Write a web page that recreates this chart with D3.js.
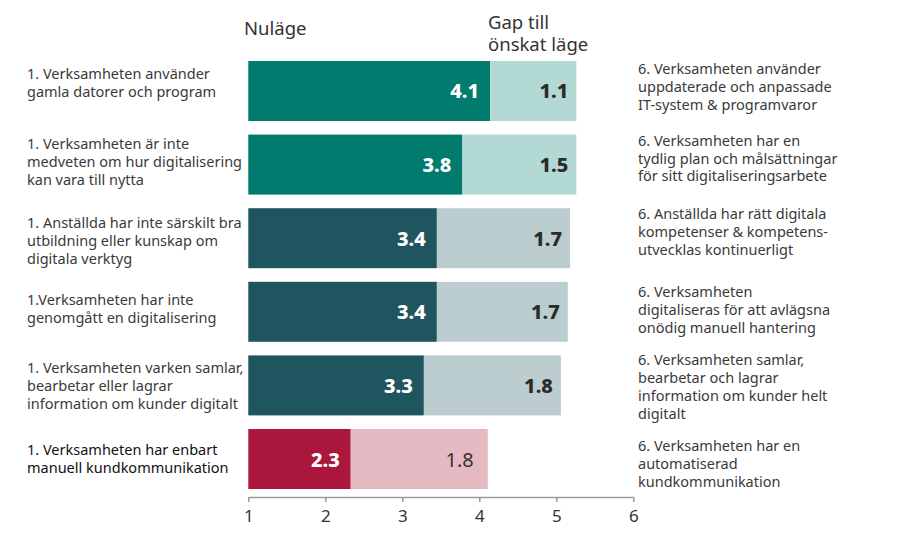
<!DOCTYPE html>
<html><head><meta charset="utf-8">
<script src="https://cdn.jsdelivr.net/npm/d3@7"></script>
<style>body{margin:0;background:#fff}svg{display:block}</style>
</head><body>
<svg id="c" width="897" height="548"></svg>
<script>
const leftLabels = [
  ["1. Verksamheten använder","gamla datorer och program"],
  ["1. Verksamheten är inte","medveten om hur digitalisering","kan vara till nytta"],
  ["1. Anställda har inte särskilt bra","utbildning eller kunskap om","digitala verktyg"],
  ["1.Verksamheten har inte","genomgått en digitalisering"],
  ["1. Verksamheten varken samlar,","bearbetar eller lagrar","information om kunder digitalt"],
  ["1. Verksamheten har enbart","manuell kundkommunikation"]
];
const rightLabels = [
  ["6. Verksamheten använder","uppdaterade och anpassade","IT-system & programvaror"],
  ["6. Verksamheten har en","tydlig plan och målsättningar","för sitt digitaliseringsarbete"],
  ["6. Anställda har rätt digitala","kompetenser & kompetens-","utvecklas kontinuerligt"],
  ["6. Verksamheten","digitaliseras för att avlägsna","onödig manuell hantering"],
  ["6. Verksamheten samlar,","bearbetar och lagrar","information om kunder helt","digitalt"],
  ["6. Verksamheten har en","automatiserad","kundkommunikation"]
];
const nulage = [4.14, 3.78, 3.449, 3.449, 3.28, 2.33];
const gap    = [1.12, 1.48, 1.73, 1.70, 1.78, 1.78];
const groups = ["teal","teal","slate","slate","slate","red"];
const xTicks = [1,2,3,4,5,6];
const headers = {nulage:["Nuläge"], gap:["Gap till","önskat läge"]};

// layout: vertical nudges of the side labels relative to bar centre (px)
const leftShift = [-9,-4,2,-4,0,-1.5];
const rightShift = [-5,-7,-7,-3,0.5,4];

const palette = {
  teal:{dark:"#007b6d", light:"#b3d9d4", gapText:"#2b2b2b", gapBold:true},
  slate:{dark:"#1f555e", light:"#bccdcf", gapText:"#2b2b2b", gapBold:true},
  red:{dark:"#aa163c", light:"#e4b9c2", gapText:"#333", gapBold:false}
};

const svg = d3.select("#c");
const font = "'Noto Sans', sans-serif";
const x = d3.scaleLinear().domain([1,6]).range([248.3,633.3]);
const y = d3.scaleBand().domain(d3.range(6)).range([61,489]).paddingInner(0.185).paddingOuter(0);

const rows = svg.append("g").selectAll("g").data(d3.range(6)).join("g");

rows.append("rect")
  .attr("x", x(1)).attr("y", i=>y(i))
  .attr("width", i=>x(nulage[i])-x(1)).attr("height", y.bandwidth())
  .attr("fill", i=>palette[groups[i]].dark);
rows.append("rect")
  .attr("x", i=>x(nulage[i])).attr("y", i=>y(i))
  .attr("width", i=>x(nulage[i]+gap[i])-x(nulage[i])).attr("height", y.bandwidth())
  .attr("fill", i=>palette[groups[i]].light);

const fmt = d3.format(".1f");
rows.append("text")
  .attr("x", i=>x(nulage[i])-11).attr("y", i=>y(i)+y.bandwidth()/2)
  .attr("text-anchor","end").attr("dominant-baseline","central")
  .attr("font-family", font).attr("font-size", 20).attr("font-weight", 800)
  .attr("fill","#fff").text(i=>fmt(nulage[i]));
rows.append("text")
  .attr("x", i=>x(nulage[i]+gap[i])-(palette[groups[i]].gapBold?8:14)).attr("y", i=>y(i)+y.bandwidth()/2)
  .attr("text-anchor","end").attr("dominant-baseline","central")
  .attr("font-family", font).attr("font-size", 20)
  .attr("font-weight", i=>palette[groups[i]].gapBold?800:400)
  .attr("fill", i=>palette[groups[i]].gapText).text(i=>fmt(gap[i]));

function multiline(sel, xPos, lines, lh, cy, color) {
  const t = sel.append("text").attr("font-family", font).attr("font-size", 14.5).attr("fill", color);
  const n = lines.length;
  lines.forEach((l,k)=>{
    t.append("tspan").attr("x", xPos).attr("y", cy + (k-(n-1)/2)*lh).attr("dominant-baseline","central").text(l);
  });
}
rows.each(function(i){
  const g = d3.select(this);
  const cy = y(i)+y.bandwidth()/2;
  multiline(g, 27, leftLabels[i], 18, cy+leftShift[i], i===5?"#111":"#3a3a3a");
  multiline(g, 638, rightLabels[i], 17.8, cy+rightShift[i], "#3a3a3a");
});

// headers
svg.append("text").attr("x",244).attr("y",35).attr("font-family",font).attr("font-size",18.5).attr("fill","#333").text(headers.nulage[0]);
const gh = svg.append("text").attr("font-family",font).attr("font-size",18.5).attr("fill","#333");
headers.gap.forEach((l,k)=>gh.append("tspan").attr("x",488).attr("y",29+k*22).text(l));

// axis
const axis = svg.append("g").attr("transform","translate(0,497)")
  .call(d3.axisBottom(x).tickValues(xTicks).tickFormat(d3.format("d")).tickSize(5).tickSizeOuter(0));
axis.select(".domain").attr("stroke","#9a9a9a").attr("stroke-width",1.5);
axis.selectAll(".tick line").attr("stroke","#9a9a9a").attr("stroke-width",1.5);
axis.selectAll(".tick text").attr("font-family",font).attr("font-size",17).attr("fill","#333").attr("dy","1.0em");
</script>
</body></html>
